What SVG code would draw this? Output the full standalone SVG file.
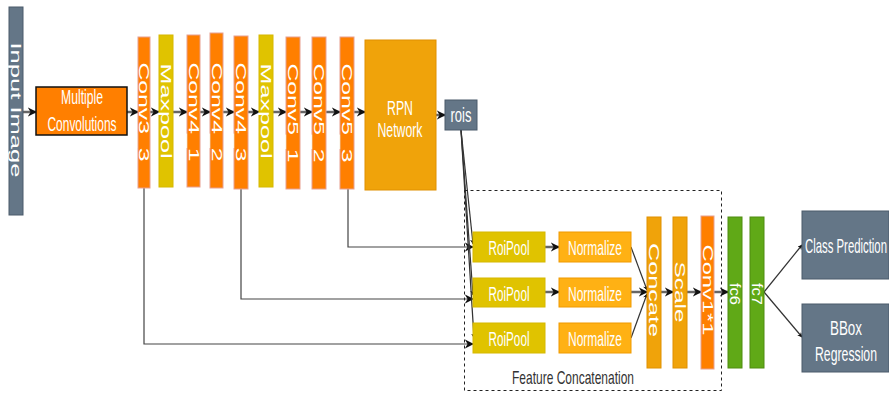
<svg xmlns="http://www.w3.org/2000/svg" width="889" height="394" viewBox="0 0 889 394">
  <defs>
    <marker id="ah" viewBox="0 0 10 10" refX="9" refY="5" markerWidth="5" markerHeight="5" orient="auto" markerUnits="userSpaceOnUse">
      <path d="M0,0 L10,5 L0,10 L3,5 Z" fill="#111"/>
    </marker>
    <marker id="ahs" viewBox="0 0 10 10" refX="9" refY="5" markerWidth="9" markerHeight="11" orient="auto" markerUnits="userSpaceOnUse">
      <path d="M0,0 L10,5 L0,10 L3,5 Z" fill="#111"/>
    </marker>
    <style>
      .t { font-family: "Liberation Sans", Arial, sans-serif; fill: #ffffff; font-size: 21px; }
      .tv { font-family: "Liberation Sans", Arial, sans-serif; fill: #ffffff; font-size: 14px; dominant-baseline: central; text-anchor: middle; }
      .dark { fill: #333333; font-size: 19px; }
      .conv { fill: #ff7f00; stroke: #e8a090; stroke-width: 1; }
      .pool { fill: #e0c300; stroke: #d6b800; stroke-width: 1; }
      .amber { fill: #f0a30a; stroke: #e09000; stroke-width: 1; }
      .norm { fill: #ffb114; stroke: #f09a00; stroke-width: 1; }
      .slate { fill: #647687; stroke: #4a5a6a; stroke-width: 1; }
      .green { fill: #60a917; stroke: #4f8c10; stroke-width: 1; }
      .flow { stroke: #666666; stroke-width: 2.5; fill: none; marker-end: url(#ahs); }
      .thin { stroke: #333333; stroke-width: 1.2; fill: none; marker-end: url(#ah); }
      .skip { stroke: #444444; stroke-width: 1.2; fill: none; marker-end: url(#ahs); }
    </style>
  </defs>

  <!-- connectors -->
  <g id="connectors">
    <line class="flow" x1="23" y1="112" x2="36" y2="112"/>
    <line class="flow" x1="127" y1="112" x2="138" y2="112"/>
    <line class="flow" x1="150" y1="112" x2="159" y2="112"/>
    <line class="flow" x1="173" y1="112" x2="187" y2="112"/>
    <line class="flow" x1="200" y1="112" x2="210" y2="112"/>
    <line class="flow" x1="223" y1="112" x2="234" y2="112"/>
    <line class="flow" x1="248" y1="112" x2="259" y2="112"/>
    <line class="flow" x1="273" y1="112" x2="286" y2="112"/>
    <line class="flow" x1="300" y1="112" x2="312" y2="112"/>
    <line class="flow" x1="326" y1="112" x2="340" y2="112"/>
    <line class="flow" x1="354" y1="112" x2="365" y2="112"/>
    <line class="flow" x1="436" y1="115" x2="445" y2="115"/>

    <!-- skip links from conv layers to RoI pooling -->
    <polyline class="skip" points="348,189 348,247 473,247"/>
    <polyline class="skip" points="241,189 241,299 473,299"/>
    <polyline class="skip" points="144,188 144,344 473,344"/>

    <!-- proposals to each RoI pooling -->
    <line class="thin" x1="461" y1="130" x2="473" y2="244"/>
    <line class="thin" x1="461" y1="130" x2="473" y2="295"/>
    <line class="thin" x1="461" y1="130" x2="474" y2="338"/>

    <line class="flow" x1="545" y1="247" x2="559" y2="247"/>
    <line class="flow" x1="545" y1="292" x2="559" y2="292"/>
    <line class="thin" x1="631" y1="247" x2="647" y2="290"/>
    <line class="flow" x1="631" y1="292" x2="647" y2="292"/>
    <line class="thin" x1="631" y1="338" x2="647" y2="294"/>
    <line class="flow" x1="661" y1="292" x2="673" y2="292"/>
    <line class="flow" x1="687" y1="292" x2="701" y2="292"/>
    <line class="flow" x1="714" y1="292" x2="728" y2="292"/>

    <line class="thin" x1="764" y1="292" x2="802" y2="245"/>
    <line class="thin" x1="764" y1="292" x2="802" y2="337"/>
  </g>

  <!-- feature concatenation frame -->
  <g id="feature-concat-frame">
    <rect x="464.5" y="190.5" width="257" height="200" fill="none" stroke="#222" stroke-width="1" stroke-dasharray="3,3"/>
    <text class="t dark" x="573" y="384" text-anchor="middle" textLength="122" lengthAdjust="spacingAndGlyphs">Feature Concatenation</text>
  </g>

  <g id="input-image">
    <rect class="slate" x="9" y="7" width="14" height="208"/>
    <text class="tv" transform="translate(16,110) rotate(90)" textLength="135" lengthAdjust="spacingAndGlyphs">Input Image</text>
  </g>

  <g id="multiple-convolutions">
    <rect x="36" y="87" width="91" height="48" fill="#ff7f00" stroke="#111" stroke-width="1.5"/>
    <text class="t" x="82" y="104" text-anchor="middle" textLength="42" lengthAdjust="spacingAndGlyphs">Multiple</text>
    <text class="t" x="82" y="131" text-anchor="middle" textLength="69" lengthAdjust="spacingAndGlyphs">Convolutions</text>
  </g>

  <g id="conv3_3">
    <rect class="conv" x="138" y="37" width="12" height="151"/>
    <text class="tv" transform="translate(144,112) rotate(90)" textLength="99" lengthAdjust="spacingAndGlyphs">Conv3_3</text>
  </g>
  <g id="maxpool1">
    <rect class="pool" x="159" y="35" width="14" height="152"/>
    <text class="tv" transform="translate(166,111) rotate(90)" textLength="95" lengthAdjust="spacingAndGlyphs">Maxpool</text>
  </g>
  <g id="conv4_1">
    <rect class="conv" x="187" y="35" width="13" height="152"/>
    <text class="tv" transform="translate(193.5,112) rotate(90)" textLength="99" lengthAdjust="spacingAndGlyphs">Conv4_1</text>
  </g>
  <g id="conv4_2">
    <rect class="conv" x="210" y="33" width="13" height="155"/>
    <text class="tv" transform="translate(216.5,112) rotate(90)" textLength="99" lengthAdjust="spacingAndGlyphs">Conv4_2</text>
  </g>
  <g id="conv4_3">
    <rect class="conv" x="234" y="36" width="14" height="153"/>
    <text class="tv" transform="translate(241,112) rotate(90)" textLength="99" lengthAdjust="spacingAndGlyphs">Conv4_3</text>
  </g>
  <g id="maxpool2">
    <rect class="pool" x="259" y="35" width="14" height="152"/>
    <text class="tv" transform="translate(266,111) rotate(90)" textLength="95" lengthAdjust="spacingAndGlyphs">Maxpool</text>
  </g>
  <g id="conv5_1">
    <rect class="conv" x="286" y="37" width="14" height="152"/>
    <text class="tv" transform="translate(293,113) rotate(90)" textLength="99" lengthAdjust="spacingAndGlyphs">Conv5_1</text>
  </g>
  <g id="conv5_2">
    <rect class="conv" x="312" y="37" width="14" height="152"/>
    <text class="tv" transform="translate(319,113) rotate(90)" textLength="99" lengthAdjust="spacingAndGlyphs">Conv5_2</text>
  </g>
  <g id="conv5_3">
    <rect class="conv" x="340" y="37" width="14" height="152"/>
    <text class="tv" transform="translate(347,113) rotate(90)" textLength="99" lengthAdjust="spacingAndGlyphs">Conv5_3</text>
  </g>

  <g id="rpn">
    <rect class="amber" x="365" y="40" width="71" height="150"/>
    <text class="t" x="400" y="115" text-anchor="middle" textLength="26" lengthAdjust="spacingAndGlyphs">RPN</text>
    <text class="t" x="400" y="137" text-anchor="middle" textLength="45" lengthAdjust="spacingAndGlyphs">Network</text>
  </g>

  <g id="rois">
    <rect class="slate" x="445" y="100" width="32" height="30"/>
    <text class="t" x="461" y="122" text-anchor="middle" textLength="21" lengthAdjust="spacingAndGlyphs">rois</text>
  </g>

  <g id="roipool1">
    <rect class="pool" x="473" y="232" width="72" height="30"/>
    <text class="t" x="509" y="255" text-anchor="middle" textLength="41" lengthAdjust="spacingAndGlyphs">RoiPool</text>
  </g>
  <g id="roipool2">
    <rect class="pool" x="473" y="278" width="72" height="29"/>
    <text class="t" x="509" y="300.5" text-anchor="middle" textLength="41" lengthAdjust="spacingAndGlyphs">RoiPool</text>
  </g>
  <g id="roipool3">
    <rect class="pool" x="473" y="323" width="72" height="30"/>
    <text class="t" x="509" y="346" text-anchor="middle" textLength="41" lengthAdjust="spacingAndGlyphs">RoiPool</text>
  </g>

  <g id="normalize1">
    <rect class="norm" x="559" y="232" width="72" height="30"/>
    <text class="t" x="595" y="255" text-anchor="middle" textLength="54" lengthAdjust="spacingAndGlyphs">Normalize</text>
  </g>
  <g id="normalize2">
    <rect class="norm" x="559" y="278" width="72" height="29"/>
    <text class="t" x="595" y="300.5" text-anchor="middle" textLength="54" lengthAdjust="spacingAndGlyphs">Normalize</text>
  </g>
  <g id="normalize3">
    <rect class="norm" x="559" y="323" width="72" height="30"/>
    <text class="t" x="595" y="346" text-anchor="middle" textLength="54" lengthAdjust="spacingAndGlyphs">Normalize</text>
  </g>

  <g id="concate">
    <rect class="amber" x="647" y="217" width="14" height="151"/>
    <text class="tv" transform="translate(654,290) rotate(90)" textLength="94" lengthAdjust="spacingAndGlyphs">Concate</text>
  </g>
  <g id="scale">
    <rect class="amber" x="673" y="217" width="14" height="151"/>
    <text class="tv" transform="translate(680,292) rotate(90)" textLength="61" lengthAdjust="spacingAndGlyphs">Scale</text>
  </g>
  <g id="conv1x1">
    <rect class="conv" x="701" y="216" width="13" height="153"/>
    <text class="tv" transform="translate(707.5,290) rotate(90)" textLength="91" lengthAdjust="spacingAndGlyphs">Conv1*1</text>
  </g>
  <g id="fc6">
    <rect class="green" x="728" y="217" width="14" height="151"/>
    <text class="tv" transform="translate(735,294) rotate(90)" textLength="22" lengthAdjust="spacingAndGlyphs">fc6</text>
  </g>
  <g id="fc7">
    <rect class="green" x="750" y="217" width="14" height="151"/>
    <text class="tv" transform="translate(757,294) rotate(90)" textLength="22" lengthAdjust="spacingAndGlyphs">fc7</text>
  </g>

  <g id="class-prediction">
    <rect class="slate" x="802" y="211" width="87" height="68"/>
    <text class="t" x="805" y="253" textLength="82" lengthAdjust="spacingAndGlyphs">Class Prediction</text>
  </g>
  <g id="bbox-regression">
    <rect class="slate" x="802" y="304" width="87" height="68"/>
    <text class="t" x="846" y="335" text-anchor="middle" textLength="32" lengthAdjust="spacingAndGlyphs">BBox</text>
    <text class="t" x="846" y="361" text-anchor="middle" textLength="62" lengthAdjust="spacingAndGlyphs">Regression</text>
  </g>
</svg>
